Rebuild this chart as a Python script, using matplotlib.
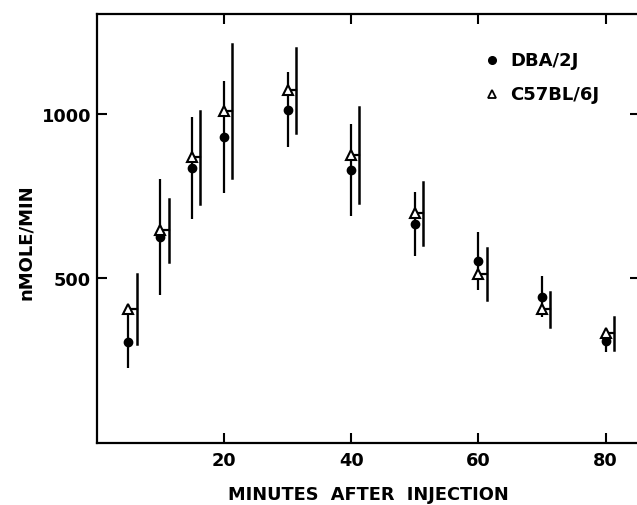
import matplotlib as mpl
from matplotlib import pyplot as plt

# data (minutes after injection, nmole/min)
minutes = [5, 10, 15, 20, 30, 40, 50, 60, 70, 80]
dba_mean = [307, 625, 835, 930, 1012, 830, 665, 553, 444, 310]
dba_err = [80, 176, 155, 170, 114, 140, 98, 88, 63, 33]
c57_mean = [406, 646, 868, 1010, 1072, 875, 698, 513, 405, 332]
c57_err = [107, 96, 142, 204, 129, 147, 96, 80, 53, 49]

x_ticks = [20, 40, 60, 80]
y_ticks = [500, 1000]

# C57 error bars are drawn a little to the right of the point
offset = 1.3

mpl.rcParams['font.family'] = 'DejaVu Sans'
mpl.rcParams['font.weight'] = 'bold'

fig = plt.figure(figsize=(6.37, 5.06), dpi=100)
ax = fig.add_axes([0.1517, 0.1233, 0.853, 0.8471])

# DBA/2J: filled circles, bar through the point
ax.errorbar(minutes, dba_mean, yerr=dba_err, fmt='o', color='k',
            ms=6, elinewidth=1.6, capsize=0, zorder=3)

# C57BL/6J: open triangles, bar offset to the right with a short connector
for x, m, e in zip(minutes, c57_mean, c57_err):
    ax.plot([x + offset, x + offset], [m - e, m + e], color='k', lw=1.8, zorder=2)
    ax.plot([x, x + offset], [m, m], color='k', lw=1.6, zorder=2)
ax.plot(minutes, c57_mean, '^', ms=7, mfc='white', mec='k', mew=1.5,
        linestyle='none', zorder=4)

ax.set_xlim(0, 85.4)
ax.set_ylim(0, 1304)
ax.set_xticks(x_ticks)
ax.set_yticks(y_ticks)
ax.set_xticklabels([str(t) for t in x_ticks])
ax.set_yticklabels([str(t) for t in y_ticks])
ax.tick_params(direction='in', length=7, width=1.5, labelsize=12.8,
               top=True, right=True)
ax.tick_params(axis='x', pad=6)
ax.tick_params(axis='y', pad=4)
for s in ax.spines.values():
    s.set_linewidth(1.6)

ax.set_xlabel('MINUTES  AFTER  INJECTION', fontsize=12.8, fontweight='bold')
ax.xaxis.set_label_coords(0.5, -0.1)
ax.set_ylabel('nMOLE/MIN', fontsize=13, fontweight='bold')
ax.yaxis.set_label_coords(-0.114, 0.47)

# hand-drawn style legend
ax.plot([0.727], [0.893], 'o', color='k', ms=5.5, transform=ax.transAxes,
        clip_on=False)
ax.plot([0.727], [0.813], '^', ms=5.5, mfc='white', mec='k', mew=1.3,
        transform=ax.transAxes, clip_on=False)
ax.text(0.761, 0.893, 'DBA/2J', transform=ax.transAxes, fontsize=13,
        fontweight='bold', va='center', ha='left')
ax.text(0.761, 0.813, 'C57BL/6J', transform=ax.transAxes, fontsize=13,
        fontweight='bold', va='center', ha='left')

fig.savefig('out.png', dpi=100)
